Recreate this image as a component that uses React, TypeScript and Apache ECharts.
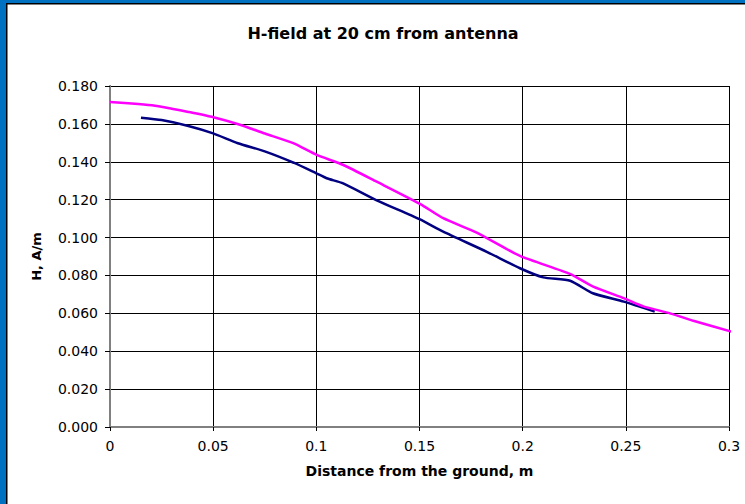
import React, { useEffect, useRef } from "react";
import * as echarts from "echarts";

const titleText = "H-field at 20 cm from antenna";
const xAxisName = "Distance from the ground, m";
const yAxisName = "H, A/m";

const pinkX = [0, 0.0137, 0.0218, 0.0299, 0.038, 0.0501, 0.0622, 0.0751, 0.0888, 0.1002, 0.1131, 0.1292, 0.1502, 0.1615, 0.1777, 0.1987, 0.2229, 0.2342, 0.2493, 0.2585, 0.2714, 0.2827, 0.3013];
const pinkY = [0.1716, 0.1705, 0.1696, 0.168, 0.1663, 0.1635, 0.1598, 0.1549, 0.1498, 0.1436, 0.1383, 0.1295, 0.1178, 0.1102, 0.1026, 0.0903, 0.0808, 0.0741, 0.0679, 0.0637, 0.06, 0.0561, 0.0503];

const navyX = [0.015, 0.025, 0.038, 0.05, 0.062, 0.075, 0.089, 0.1, 0.105, 0.113, 0.129, 0.15, 0.1615, 0.1826, 0.1987, 0.21, 0.223, 0.234, 0.249, 0.264];
const navyY = [0.1633, 0.162, 0.1589, 0.155, 0.1498, 0.1455, 0.1395, 0.1339, 0.1313, 0.1286, 0.1198, 0.1097, 0.1031, 0.0925, 0.0838, 0.079, 0.0772, 0.0706, 0.0662, 0.0609];

const FONT = "'DejaVu Sans', 'Liberation Sans', sans-serif";

export default function App() {
  const ref = useRef<HTMLDivElement>(null);
  useEffect(() => {
    if (!ref.current) return;
    const chart = echarts.init(ref.current, null, { renderer: "svg" });
    const left = 110, top = 86, right = 729, bottom = 427;
    chart.setOption({
      animation: false,
      backgroundColor: "#ffffff",
      textStyle: { fontFamily: FONT },
      grid: { left, top, width: right - left, height: bottom - top, containLabel: false },
      graphic: [
        { type: "rect", shape: { x: 0, y: 0, width: 745, height: 3 }, style: { fill: "#0070C0" }, z: 100 },
        { type: "rect", shape: { x: 0, y: 0, width: 6, height: 504 }, style: { fill: "#0070C0" }, z: 100 },
        { type: "rect", shape: { x: 6, y: 3, width: 739, height: 1.5 }, style: { fill: "#000" }, z: 100 },
        { type: "rect", shape: { x: 6, y: 3, width: 1.5, height: 501 }, style: { fill: "#000" }, z: 100 },
        {
          type: "text",
          x: 383,
          y: 33,
          style: { text: titleText, fontFamily: FONT, fontWeight: "bold", fontSize: 16, fill: "#000", textAlign: "center", textVerticalAlign: "middle" },
        },
      ],
      xAxis: [
        {
          type: "value",
          min: 0,
          max: 0.3,
          interval: 0.05,
          name: xAxisName,
          nameLocation: "middle",
          nameGap: 37,
          nameTextStyle: { fontFamily: FONT, fontWeight: "bold", fontSize: 14, color: "#000" },
          axisLine: { show: true, onZero: false, lineStyle: { color: "#000", width: 1 } },
          axisTick: { show: true, inside: false, length: 4, lineStyle: { color: "#000" } },
          axisLabel: { margin: 12, fontFamily: FONT, fontSize: 14, color: "#000", formatter: (v: number) => String(+v.toFixed(2)) },
          splitLine: { show: true, lineStyle: { color: "#000", width: 1 } },
        },
        {
          type: "value",
          position: "top",
          min: 0,
          max: 0.3,
          interval: 0.05,
          axisLine: { show: true, lineStyle: { color: "#808080", width: 2 } },
          axisTick: { show: false },
          axisLabel: { show: false },
          splitLine: { show: false },
        },
      ],
      yAxis: [
        {
          type: "value",
          min: 0,
          max: 0.18,
          interval: 0.02,
          name: yAxisName,
          nameLocation: "middle",
          nameGap: 67,
          nameTextStyle: { fontFamily: FONT, fontWeight: "bold", fontSize: 13, color: "#000" },
          axisLine: { show: true, onZero: false, lineStyle: { color: "#000", width: 1 } },
          axisTick: { show: true, inside: false, length: 5, lineStyle: { color: "#000" } },
          axisLabel: { margin: 12, fontFamily: FONT, fontSize: 14, color: "#000", formatter: (v: number) => v.toFixed(3) },
          splitLine: { show: true, lineStyle: { color: "#000", width: 1 } },
        },
        {
          type: "value",
          position: "right",
          min: 0,
          max: 0.18,
          interval: 0.02,
          axisLine: { show: true, lineStyle: { color: "#808080", width: 2 } },
          axisTick: { show: false },
          axisLabel: { show: false },
          splitLine: { show: false },
        },
      ],
      series: [
        {
          type: "line",
          name: "navy",
          data: navyX.map((x, i) => [x, navyY[i]]),
          showSymbol: false,
          smooth: 0.2,
          clip: false,
          lineStyle: { color: "#000080", width: 2.5 },
          z: 5,
        },
        {
          type: "line",
          name: "pink",
          data: pinkX.map((x, i) => [x, pinkY[i]]),
          showSymbol: false,
          smooth: 0.2,
          clip: false,
          lineStyle: { color: "#FF00FF", width: 2.5 },
          z: 6,
        },
      ],
    });
    return () => chart.dispose();
  }, []);
  return <div ref={ref} style={{ position: "fixed", left: 0, top: 0, width: 745, height: 504 }} />;
}
